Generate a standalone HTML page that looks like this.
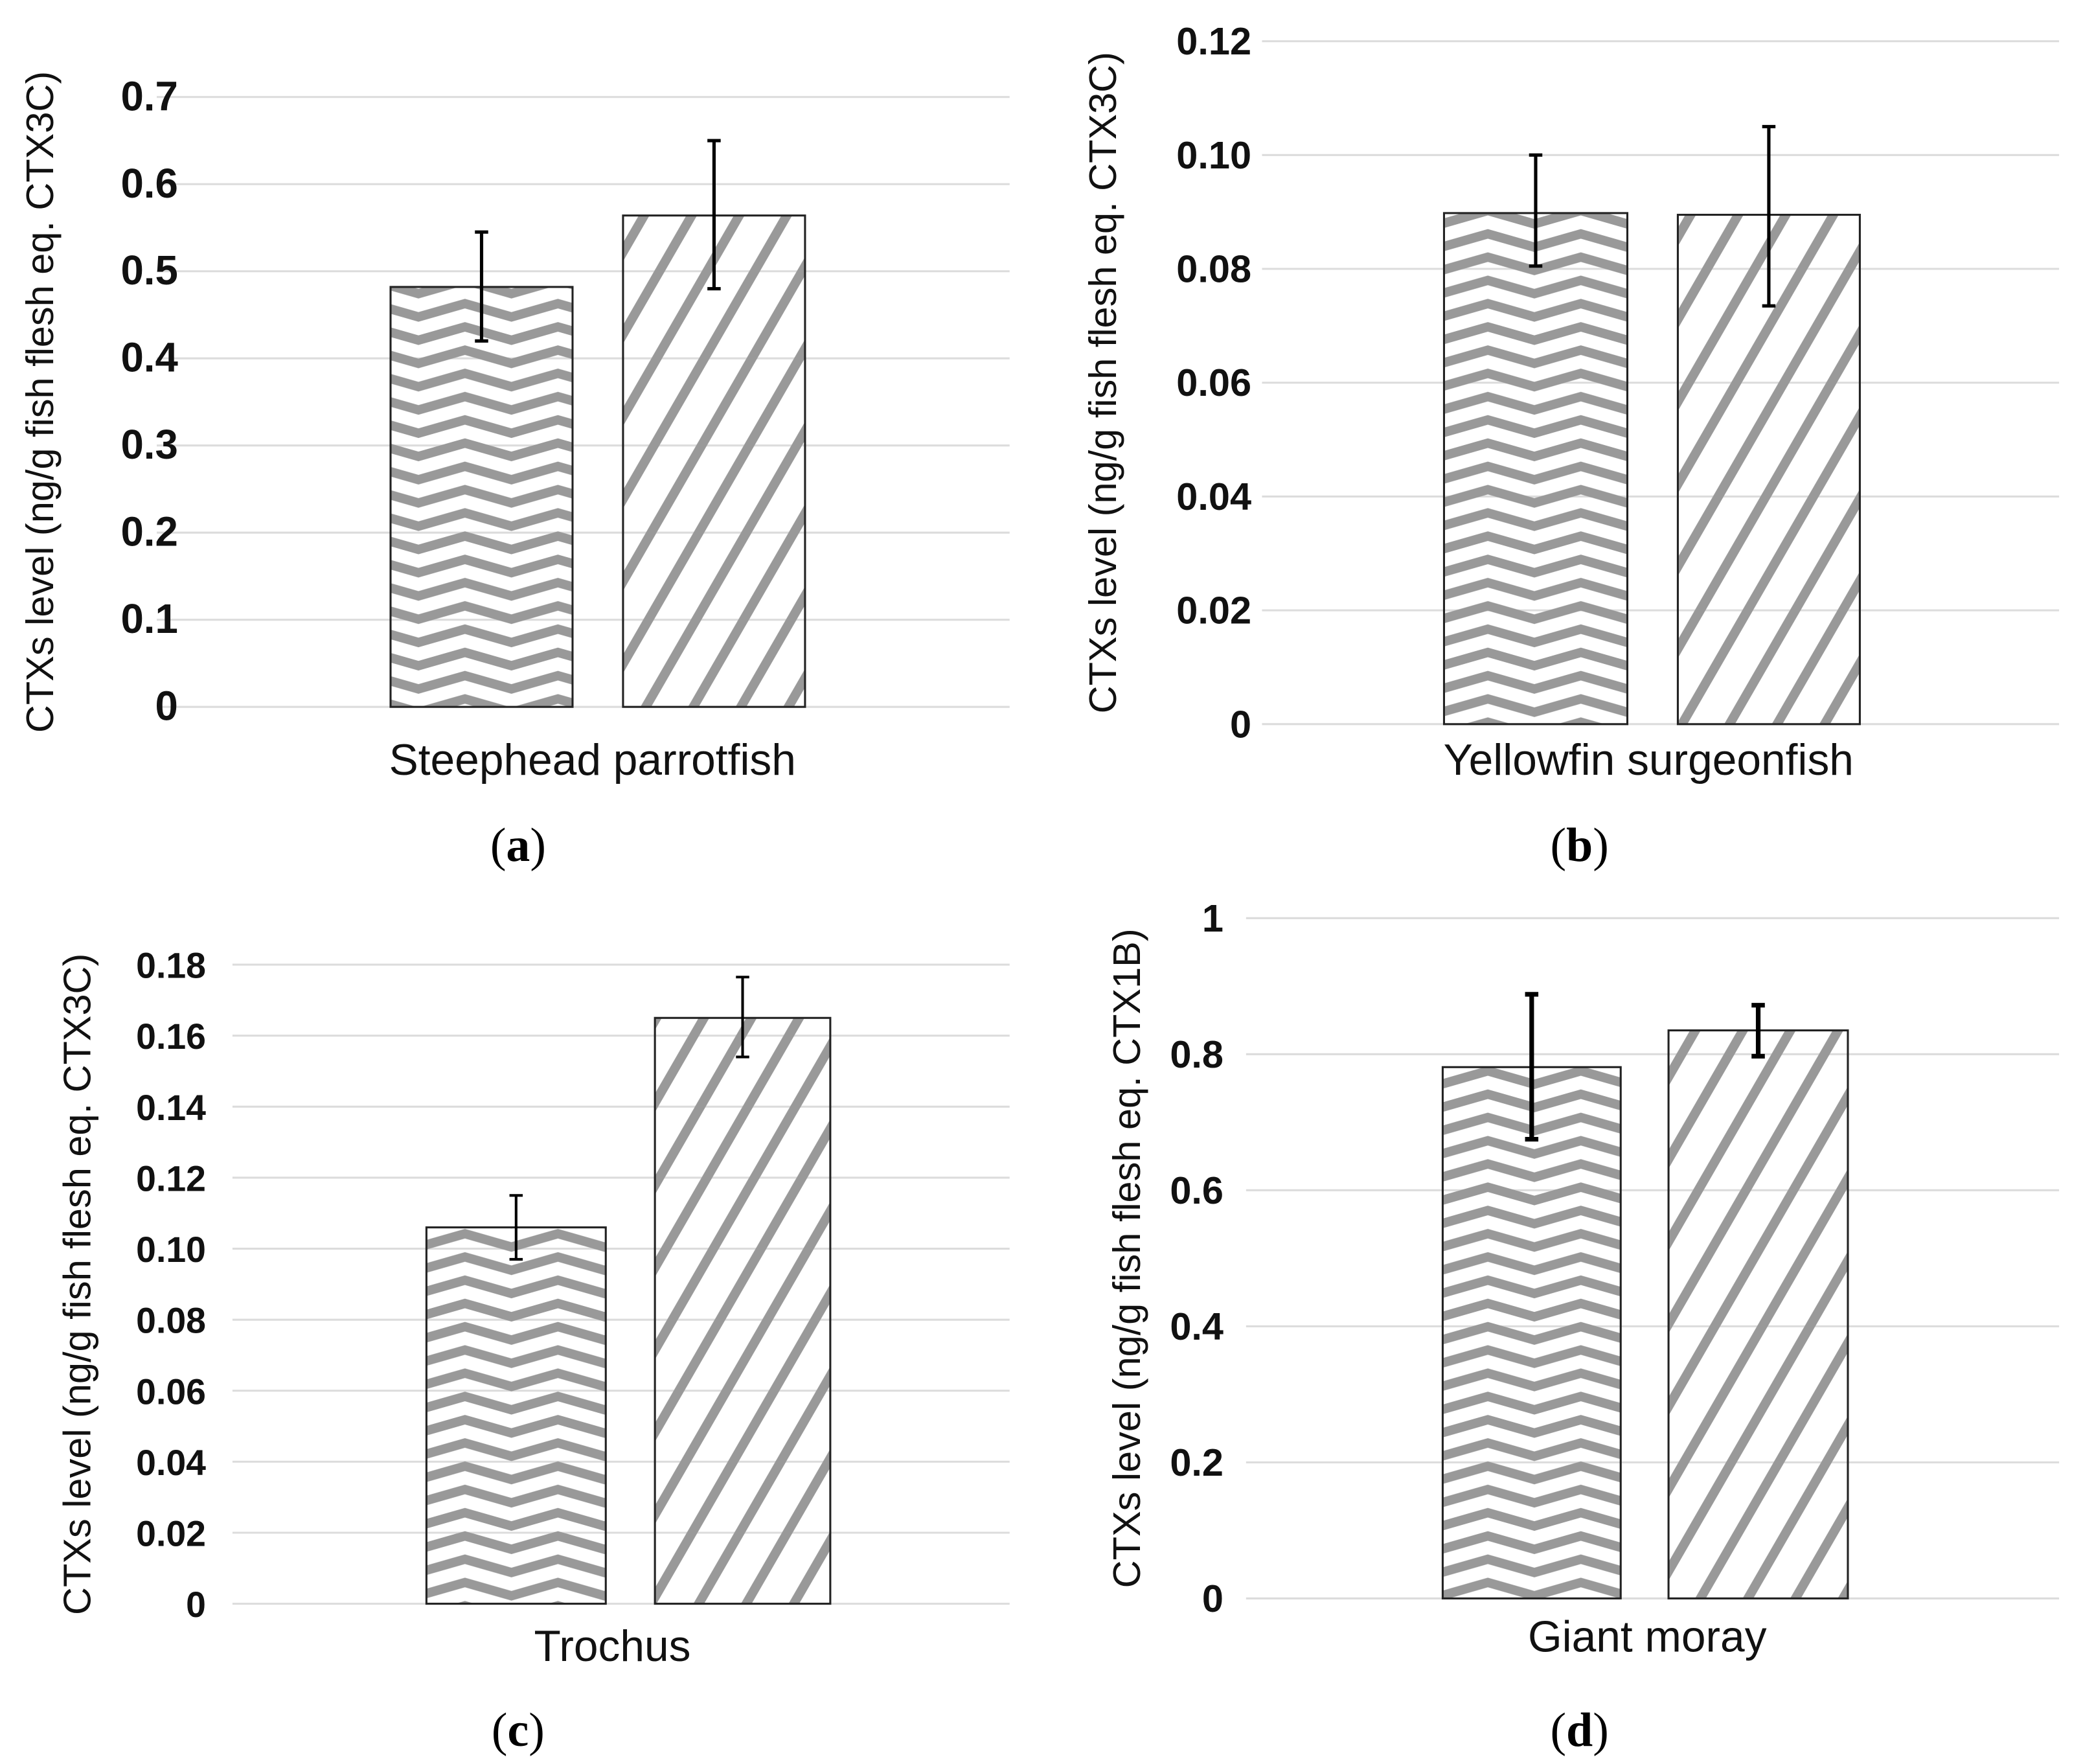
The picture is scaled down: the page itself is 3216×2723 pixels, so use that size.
<!DOCTYPE html>
<html><head><meta charset="utf-8"><style>
html,body{margin:0;padding:0;background:#fff}
svg{display:block}
text{font-family:"Liberation Sans",Arial,sans-serif}
</style></head><body>
<svg id="fig" width="3216" height="2723" viewBox="0 0 1568 1327.6" xmlns="http://www.w3.org/2000/svg">
<defs>
<pattern id="chev" patternUnits="userSpaceOnUse" width="70" height="17.5" x="0" y="0">
<polyline points="-35,11 0,1 35,11 70,1 105,11" fill="none" stroke="#999" stroke-width="7"/>
<polyline points="-35,28.5 0,18.5 35,28.5 70,18.5 105,28.5" fill="none" stroke="#999" stroke-width="7"/>
<polyline points="-35,-6.5 0,-16.5 35,-6.5 70,-16.5 105,-6.5" fill="none" stroke="#999" stroke-width="7"/>
</pattern>
<pattern id="diag" patternUnits="userSpaceOnUse" width="31" height="40" patternTransform="rotate(30)">
<line x1="5" y1="-5" x2="5" y2="45" stroke="#999" stroke-width="7"/>
</pattern>
</defs>
</svg>
<script>
// Panel data
const categories = ["Steephead parrotfish","Yellowfin surgeonfish","Trochus","Giant moray"];
const panelLetters = ["a","b","c","d"];
const yTitles = ["CTXs level (ng/g fish flesh eq. CTX3C)","CTXs level (ng/g fish flesh eq. CTX3C)","CTXs level (ng/g fish flesh eq. CTX3C)","CTXs level (ng/g fish flesh eq. CTX1B)"];
const seriesChevron = [0.482, 0.0898, 0.106, 0.781];
const seriesDiagonal = [0.564, 0.0895, 0.165, 0.835];
const errChevronLow = [0.42, 0.0805, 0.097, 0.675];
const errChevronHigh = [0.545, 0.100, 0.115, 0.888];
const errDiagonalLow = [0.48, 0.0735, 0.154, 0.797];
const errDiagonalHigh = [0.65, 0.105, 0.1765, 0.872];
const tickLabelsA = ["0","0.1","0.2","0.3","0.4","0.5","0.6","0.7"];
const tickLabelsB = ["0","0.02","0.04","0.06","0.08","0.10","0.12"];
const tickLabelsC = ["0","0.02","0.04","0.06","0.08","0.10","0.12","0.14","0.16","0.18"];
const tickLabelsD = ["0","0.2","0.4","0.6","0.8","1"];
const tickLabels = [tickLabelsA,tickLabelsB,tickLabelsC,tickLabelsD];

const layout = [
 {gx0:118,gx1:760,y0:532,ytop:73,vmax:0.7,b1:[294,431],b2:[469,606],lab:134,tx:30,xl:[446,583],pl:[390,648],ew:2.5,fs:31},
 {gx0:950,gx1:1550,y0:545,ytop:31,vmax:0.12,b1:[1087,1225],b2:[1263,1400],lab:942,tx:830,xl:[1241,583],pl:[1189,648],ew:2.5,fs:29},
 {gx0:175,gx1:760,y0:1207,ytop:726,vmax:0.18,b1:[321,456],b2:[493,625],lab:155,tx:58,xl:[461,1250],pl:[390,1314],ew:2,fs:27},
 {gx0:938,gx1:1550,y0:1203,ytop:691,vmax:1.0,b1:[1086,1220],b2:[1256,1391],lab:921,tx:848,xl:[1240,1243],pl:[1189,1314],ew:3.5,fs:29}
];
const svg = document.getElementById('fig');
const NS = "http://www.w3.org/2000/svg";
function mk(tag, attrs, parent){const e=document.createElementNS(NS,tag);for(const k in attrs)e.setAttribute(k,attrs[k]);(parent||svg).appendChild(e);return e;}

layout.forEach((L,i)=>{
  const g = mk('g',{});
  
  
  const yScale = v => L.y0 - (v/L.vmax)*(L.y0-L.ytop);
  const ticks = tickLabels[i];
  ticks.forEach(t=>{
    const y = yScale(parseFloat(t));
    const gl = mk('line',{x1:L.gx0,x2:L.gx1,y1:y,y2:y,stroke:'#dcdcdc','stroke-width':1.5},g);
    
    
    const tl = mk('text',{x:L.lab,y:y+10,'text-anchor':'end','font-size':L.fs,'font-weight':'bold',fill:'#111'},g);
    tl.textContent = t;
    
    
  });
  const bars = [[L.b1,seriesChevron[i],'url(#chev)',errChevronLow[i],errChevronHigh[i],'chevron'],
                [L.b2,seriesDiagonal[i],'url(#diag)',errDiagonalLow[i],errDiagonalHigh[i],'diagonal']];
  bars.forEach(b=>{
    const top = yScale(b[1]);
    const r = mk('rect',{x:b[0][0],y:top,width:b[0][1]-b[0][0],height:L.y0-top,fill:b[2],stroke:'#222','stroke-width':1.5},g);
    
    
    const cx=(b[0][0]+b[0][1])/2, yl=yScale(b[3]), yh=yScale(b[4]);
    const eb = mk('path',{d:`M${cx},${yl}V${yh}M${cx-5},${yl}H${cx+5}M${cx-5},${yh}H${cx+5}`,stroke:'#000','stroke-width':L.ew,fill:'none'},g);
    
    
  });
  const yt = mk('text',{x:0,y:0,transform:`translate(${L.tx+10},${(L.ytop+L.y0)/2}) rotate(-90)`,'text-anchor':'middle','font-size':29,fill:'#111'},g);
  yt.textContent = yTitles[i];
  
  
  const xl = mk('text',{x:L.xl[0],y:L.xl[1],'text-anchor':'middle','font-size':33,fill:'#111'},g);
  xl.textContent = categories[i];
  
  
  const pl = mk('text',{x:L.pl[0],y:L.pl[1],'text-anchor':'middle','font-size':36,fill:'#000','style':'font-family:"Liberation Serif",serif'},g);
  
  
  const t1 = mk('tspan',{},pl); t1.textContent='(';
  const t2 = mk('tspan',{'font-weight':'bold'},pl); t2.textContent=panelLetters[i];
  const t3 = mk('tspan',{},pl); t3.textContent=')';
});
</script>
</body></html>
